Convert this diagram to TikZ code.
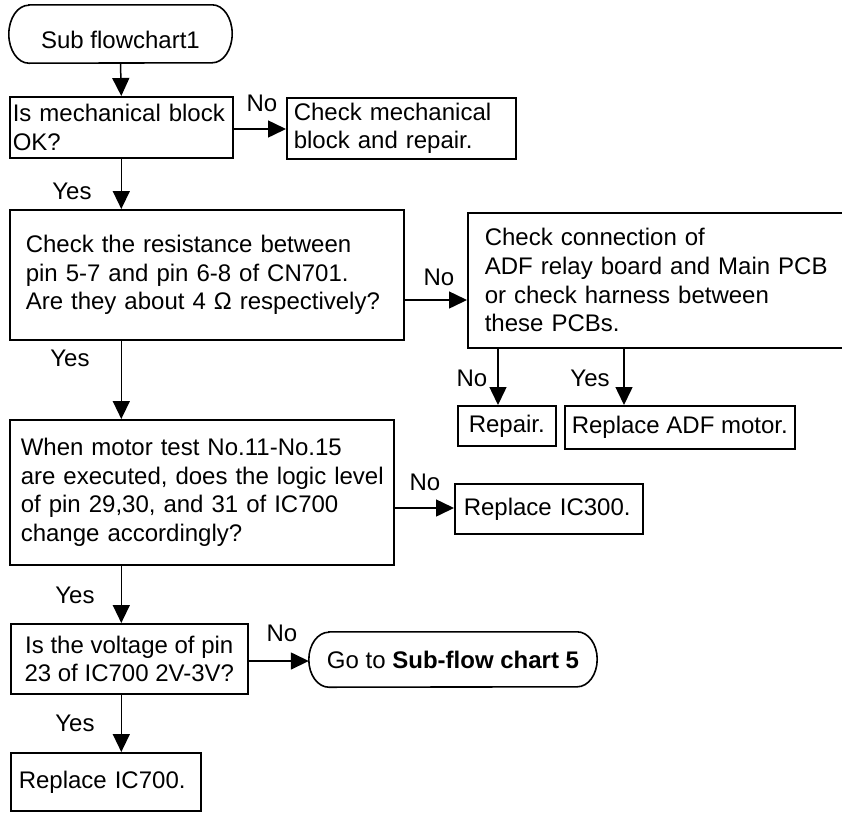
\documentclass[tikz,border=0pt]{standalone}
\usepackage{fontspec}
\setmainfont{Liberation Sans}
\usetikzlibrary{arrows.meta}
\newcommand\myfont{\fontsize{24}{28.7}\selectfont}
\newcommand\Ln[1]{\mbox{#1}}
\begin{document}
\begin{tikzpicture}[x=1pt,y=-1pt,
  box/.style={draw, line width=1.6pt, anchor=north west, inner ysep=0pt, font=\myfont, align=left},
  cbox/.style={draw, line width=1.6pt, anchor=north west, inner sep=0pt, font=\myfont, align=center},
  term/.style={inner sep=0pt, font=\myfont, align=center},
  outline/.style={line width=1.6pt},
  arr/.style={line width=1.5pt, -{Triangle[length=18pt,width=17pt]}},
  lbl/.style={font=\myfont, inner sep=0pt}]
\clip (0,0) rectangle (842,814);
\fill[white] (0,0) rectangle (842,814);

% terminal 1
\node[term, minimum width=223pt, minimum height=58pt, text height=29pt, text depth=0pt] (t1) at (120.5,34) {Sub flowchart1};
\draw[outline] ([xshift=20pt]t1.north west) -- ([xshift=-20pt]t1.north east)
  arc[start angle=90,end angle=-90,x radius=20pt,y radius=29pt]
  -- ([xshift=20pt]t1.south west)
  arc[start angle=270,end angle=90,x radius=20pt,y radius=29pt] -- cycle;

% boxes
\node[box, inner xsep=3pt, text width=217pt, minimum height=61pt] (b1) at (9,96) {\Ln{Is mechanical block}\\\Ln{OK?}};
\node[box, inner xsep=7pt, text width=215pt, minimum height=61pt] (r1) at (286,97) {\Ln{Check mechanical}\\\Ln{block and repair.}};
\node[box, inner xsep=16pt, text width=362pt, minimum height=130pt] (b2) at (9,209) {\Ln{Check the resistance between}\\\Ln{pin 5-7 and pin 6-8 of CN701.}\\\Ln{Are they about 4 Ω respectively?}};
\node[box, inner xsep=17pt, text width=344pt, minimum height=135pt] (b3) at (467,212) {\Ln{Check connection of}\\\Ln{ADF relay board and Main PCB}\\\Ln{or check harness between}\\\Ln{these PCBs.}};
\node[cbox, minimum width=98pt, minimum height=40pt] (rep) at (457,405) {Repair.};
\node[cbox, minimum width=230pt, minimum height=43pt] (adf) at (564,405) {Replace ADF motor.};
\node[box, inner xsep=11pt, text width=362pt, minimum height=145pt] (b4) at (9,419) {\Ln{When motor test No.11-No.15}\\\Ln{are executed, does the logic level}\\\Ln{of pin 29,30, and 31 of IC700}\\\Ln{change accordingly?}};
\node[box, inner xsep=9pt, text width=170pt, minimum height=50pt] (ic3) at (454,483) {\Ln{Replace IC300.}};
\node[cbox, minimum width=237pt, minimum height=70pt] (b5) at (10,623) {Is the voltage of pin\\23 of IC700 2V-3V?};
\node[box, inner xsep=8pt, text width=174pt, minimum height=58pt] (b6) at (10,752) {\Ln{Replace IC700.}};

% terminal 2
\node[term, minimum width=288pt, minimum height=55pt] (t2) at (453,659.5) {Go to \textbf{Sub-flow chart 5}};
\draw[outline] ([xshift=20pt]t2.north west) -- ([xshift=-20pt]t2.north east)
  arc[start angle=90,end angle=-90,x radius=20pt,y radius=27.5pt]
  -- ([xshift=20pt]t2.south west)
  arc[start angle=270,end angle=90,x radius=20pt,y radius=27.5pt] -- cycle;

% connectors
\draw[arr] (t1.south) -- (b1.north);
\draw[arr] (b1.east |- 0,129) -- (r1.west |- 0,129);
\draw[arr] (b1.south) -- (b1.south |- b2.north);
\draw[arr] (b2.east |- 0,300) -- (b3.west |- 0,300);
\draw[arr] (b1.south |- b2.south) -- (b1.south |- b4.north);
\draw[arr] (b3.south -| 498,0) -- (rep.north -| 498,0);
\draw[arr] (b3.south -| 624,0) -- (adf.north -| 624,0);
\draw[arr] (b4.east |- 0,508) -- (ic3.west |- 0,508);
\draw[arr] (b1.south |- b4.south) -- (b1.south |- b5.north);
\draw[arr] (b5.east |- 0,661) -- (t2.west |- 0,661);
\draw[arr] (b1.south |- b5.south) -- (b1.south |- b6.north);

% labels
\node[lbl] (n1) at (262,103) {No};
\node[lbl] (y1) at (72,191) {Yes};
\node[lbl] (n2) at (439,277) {No};
\node[lbl] (y2) at (70,358) {Yes};
\node[lbl] (n3) at (472,378) {No};
\node[lbl] (y3) at (590,378) {Yes};
\node[lbl] (n4) at (425,482) {No};
\node[lbl] (y4) at (75,595) {Yes};
\node[lbl] (n5) at (282,633) {No};
\node[lbl] (y5) at (75,723) {Yes};
\end{tikzpicture}
\end{document}
